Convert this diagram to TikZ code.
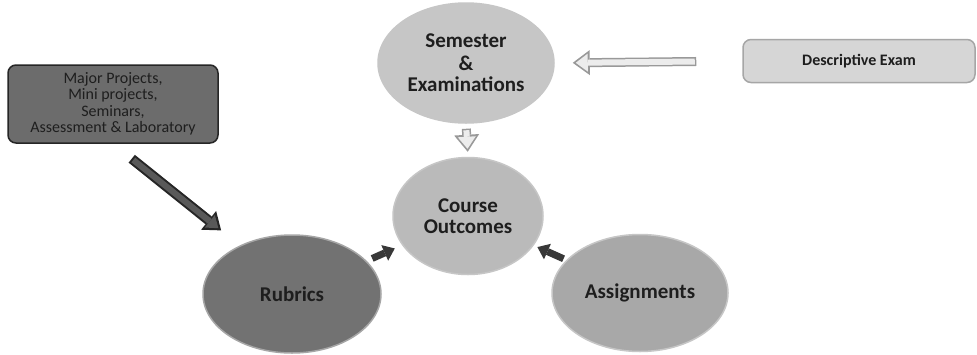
\documentclass[tikz,border=0pt]{standalone}
\usepackage{fontspec}
\setmainfont{Carlito}
\usetikzlibrary{shapes.geometric,arrows.meta}

\definecolor{semfill}{HTML}{C6C6C6}
\definecolor{coursefill}{HTML}{BABABA}
\definecolor{rubfill}{HTML}{727272}
\definecolor{assfill}{HTML}{A8A8A8}
\definecolor{descfill}{HTML}{D6D6D6}
\definecolor{majfill}{HTML}{6C6C6C}
\definecolor{inkdark}{HTML}{1E1E1E}

\begin{document}
\begin{tikzpicture}[x=1pt,y=-1pt,
    blob/.style={ellipse, inner sep=0pt, draw=gray!45, line width=1.5pt,
                 text=inkdark, align=center, font=\bfseries\fontsize{21}{21.5}\selectfont},
    card/.style={rectangle, rounded corners=8pt, inner sep=0pt, line width=1.5pt,
                 text=inkdark, align=center},
    hollowarrow/.style 2 args={draw=gray!80, line width=9pt,
                 shorten <=#1, shorten >=#2,
                 -{Triangle[length=17pt,width=25pt,line width=0pt]},
                 postaction={draw=gray!15, line width=6pt,
                 shorten <=#1+1.5pt, shorten >=#2+3pt,
                 -{Triangle[length=12pt,width=18pt,line width=0pt]}}},
    darkarrow/.style 2 args={draw=black!78, line width=7pt,
                 shorten <=#1, shorten >=#2,
                 -{Triangle[length=11pt,width=17pt,line width=0pt]}},
    heavyarrow/.style 2 args={draw=black!85, line width=10pt,
                 shorten <=#1, shorten >=#2,
                 -{Triangle[length=16pt,width=24pt,line width=0pt]},
                 postaction={draw=black!65, line width=6pt,
                 shorten <=#1+2pt, shorten >=#2+3.5pt,
                 -{Triangle[length=11pt,width=16pt,line width=0pt]}}}
  ]
    \useasboundingbox[fill=white] (0,0) rectangle (977,354);

    % the four ellipses
    \node[blob, fill=semfill, minimum width=176pt, minimum height=120pt] (sem) at (466,63)
         {Semester\\[1pt]\&\\Examinations};
    \node[blob, fill=coursefill, minimum width=150pt, minimum height=117pt] (course) at (468,216)
         {Course\\Outcomes};
    \node[blob, fill=rubfill, draw=gray!70, minimum width=178pt, minimum height=118pt] (rubrics) at (292,294)
         {Rubrics};
    \node[blob, fill=assfill, minimum width=176pt, minimum height=117pt] (assign) at (640,293)
         {Assignments};

    % the two boxes
    \node[card, fill=descfill, draw=gray!70, minimum width=232pt, minimum height=43pt,
          font=\bfseries\fontsize{16}{16.5}\selectfont] (desc) at (859,61) {Descriptive Exam};
    \node[card, fill=majfill, draw=black!85, minimum width=210pt, minimum height=78pt,
          font=\fontsize{16}{16.5}\selectfont] (major) at (113,104)
         {Major Projects,\\Mini projects,\\Seminars,\\Assessment \& Laboratory};

    \path (desc.west)   edge[hollowarrow={46pt}{18pt}] (sem.east)
          (sem.south)   edge[hollowarrow={5pt}{5pt}]   (course.north)
          (major.south) edge[heavyarrow={24pt}{24pt}]  (rubrics.137)
          (rubrics)     edge[darkarrow={6pt}{8pt}]     (course)
          (assign)      edge[darkarrow={3pt}{4pt}]     (course);
\end{tikzpicture}
\end{document}
